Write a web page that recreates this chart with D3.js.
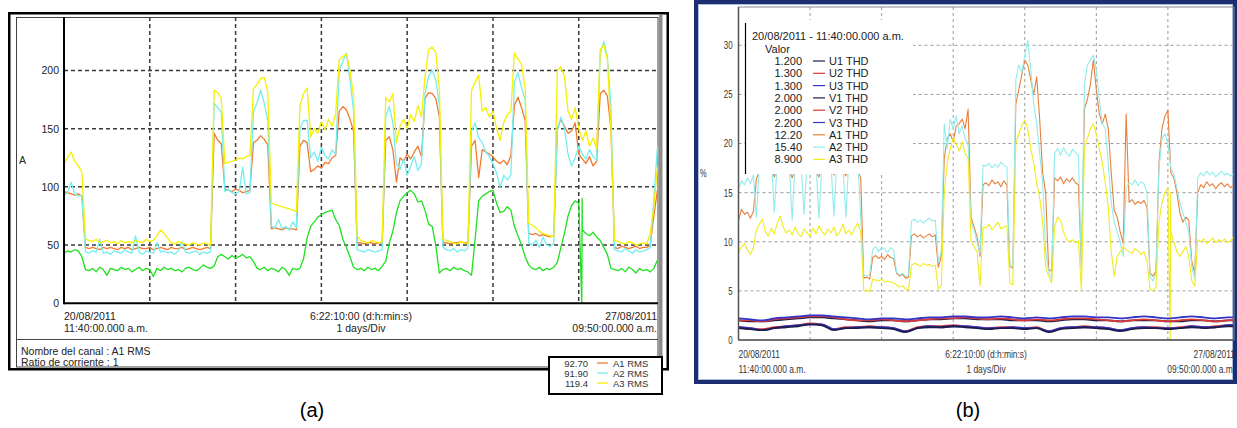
<!DOCTYPE html>
<html>
<head>
<meta charset="utf-8">
<script src="https://cdn.jsdelivr.net/npm/d3@7"></script>
<style>
body { margin: 0; background: #fff; }
svg { display: block; }
</style>
</head>
<body>
<svg id="chart" width="1237" height="428"></svg>
<script>
// hourly samples from 20/08/2011 11:40 (h = 0 .. 166)

// panel (a): RMS currents, A
const a1Rms = [
  96, 95, 94, 93, 94, 92, 48, 47, 48, 47, 46, 48, 47, 48, 47, 46, 48, 47, 48, 46, 47, 48, 47, 47,
  48, 46, 47, 48, 47, 46, 48, 47, 47, 48, 46, 47, 48, 47, 46, 47, 48, 47, 146, 140, 137, 98, 97, 96,
  98, 97, 95, 96, 97, 138, 140, 144, 141, 136, 64, 65, 64, 63, 65, 64, 64, 63, 135, 140, 138, 113, 115, 118,
  116, 121, 120, 125, 127, 165, 169, 166, 158, 148, 52, 52, 51, 52, 52, 51, 52, 52, 140, 143, 132, 104, 125, 122,
  128, 124, 130, 135, 126, 176, 181, 180, 176, 160, 52, 52, 51, 52, 52, 53, 52, 52, 135, 140, 108, 132, 130, 128,
  126, 122, 120, 123, 119, 127, 170, 177, 168, 157, 60, 59, 60, 58, 59, 58, 57, 58, 150, 158, 152, 146, 148, 155,
  128, 124, 120, 126, 118, 122, 180, 183, 178, 150, 48, 47, 49, 48, 47, 48, 49, 47, 48, 48, 50, 75, 97
]
const a2Rms = [
  93, 95, 104, 94, 92, 93, 44, 43, 45, 44, 55, 43, 44, 42, 45, 44, 43, 46, 44, 43, 58, 44, 42, 45,
  44, 43, 52, 44, 45, 43, 44, 42, 45, 53, 44, 43, 44, 45, 42, 44, 43, 44, 172, 168, 164, 96, 98, 95,
  94, 96, 117, 94, 95, 165, 172, 183, 172, 157, 66, 65, 72, 64, 66, 63, 70, 65, 150, 157, 157, 125, 130, 122,
  134, 127, 124, 132, 128, 200, 208, 215, 192, 165, 46, 45, 44, 46, 45, 44, 45, 46, 160, 169, 155, 120, 115, 124,
  110, 118, 126, 114, 120, 180, 195, 200, 192, 170, 48, 46, 45, 47, 44, 46, 45, 47, 148, 155, 142, 138, 130, 126,
  120, 112, 100, 110, 106, 110, 190, 198, 185, 175, 52, 50, 54, 48, 57, 50, 49, 51, 148, 160, 150, 128, 118, 125,
  135, 128, 124, 132, 126, 123, 214, 225, 212, 170, 46, 45, 44, 47, 45, 43, 46, 44, 45, 46, 48, 90, 134
]
const a3Rms = [
  120, 125, 130, 122, 118, 113, 55, 54, 53, 55, 52, 53, 54, 52, 53, 51, 54, 52, 53, 52, 54, 53, 52, 55,
  53, 54, 58, 63, 60, 56, 52, 51, 53, 52, 51, 50, 52, 51, 50, 52, 51, 50, 183, 181, 176, 120, 121, 122,
  123, 125, 124, 126, 127, 184, 188, 193, 194, 182, 86, 85, 84, 83, 82, 81, 80, 79, 170, 180, 185, 143, 150, 146,
  156, 149, 158, 152, 163, 209, 212, 214, 200, 178, 58, 54, 53, 52, 54, 53, 52, 53, 177, 173, 180, 138, 152, 158,
  150, 162, 156, 170, 160, 195, 218, 220, 215, 185, 55, 54, 53, 52, 51, 53, 52, 51, 183, 190, 196, 165, 168, 160,
  165, 150, 140, 155, 162, 165, 215, 210, 205, 185, 69, 67, 65, 62, 60, 59, 58, 57, 200, 203, 195, 165, 158, 168,
  150, 140, 148, 135, 142, 133, 218, 222, 210, 150, 54, 53, 52, 51, 53, 52, 50, 51, 52, 51, 60, 83, 117
]
const nRms = [
  43, 45, 44, 46, 45, 40, 29, 28, 30, 27, 31, 29, 24, 30, 29, 28, 31, 29, 30, 27, 29, 31, 28, 30,
  29, 23, 30, 28, 31, 29, 30, 28, 29, 27, 30, 31, 29, 28, 30, 33, 31, 30, 32, 40, 42, 40, 38, 41,
  39, 40, 42, 39, 40, 36, 30, 29, 31, 28, 30, 29, 27, 31, 29, 24, 30, 29, 30, 38, 56, 66, 70, 74,
  76, 78, 79, 80, 72, 67, 55, 48, 40, 31, 29, 30, 28, 31, 29, 30, 28, 32, 36, 52, 62, 78, 88, 92,
  95, 97, 94, 87, 88, 80, 68, 66, 50, 26, 29, 30, 28, 31, 29, 30, 28, 27, 24, 55, 88, 92, 94, 96,
  97, 86, 78, 79, 83, 80, 66, 58, 50, 40, 33, 30, 29, 31, 28, 30, 29, 31, 35, 48, 60, 75, 84, 88,
  86, 63, 60, 58, 61, 57, 54, 48, 42, 30, 29, 28, 30, 27, 31, 29, 26, 30, 28, 29, 27, 30, 37
]
const nRmsGlitch = [[144.85, 0], [144.95, 90]]
const aTicks = [0, 50, 100, 150, 200]
const rmsNames = ["A1 RMS", "A2 RMS", "A3 RMS"]
const rmsValues = ["92.70", "91.90", "119.4"]

// panel (b): THD, %
const a1Thd = [
  12.2, 13.3, 12.8, 13.0, 12.4, 13.1, 16.4, 17.2, 17.6, 17.3, 17.8, 17.5, 16.6, 17.4, 17.7, 17.2, 17.5, 17.3, 16.5, 17.4, 17.1, 17.7, 17.5, 17.3,
  17.6, 17.4, 17.2, 16.6, 17.7, 17.3, 17.4, 17.6, 16.8, 17.5, 17.4, 17.3, 16.7, 17.8, 17.4, 17.2, 17.5, 16.4, 6.3, 6.4, 6.2, 8.4, 8.6, 8.3,
  8.5, 8.2, 8.7, 8.4, 8.3, 6.8, 6.5, 6.7, 6.3, 6.4, 10.6, 10.8, 10.5, 10.7, 10.4, 10.6, 10.8, 10.5, 10.7, 7.4, 8.5, 18.5, 20.5, 21.0,
  20.2, 21.8, 22.0, 22.5, 21.5, 23.5, 12.5, 11.5, 10.5, 8.5, 15.8, 16.0, 15.7, 16.3, 15.9, 16.1, 15.6, 16.2, 15.8, 7.5, 7.3, 24.0, 25.5, 27.0,
  28.5, 28.0, 26.5, 25.0, 26.8, 22.5, 17.0, 15.0, 7.2, 7.0, 16.5, 16.2, 16.6, 15.9, 16.4, 16.1, 16.5, 16.0, 15.8, 7.5, 23.5, 24.5, 26.0, 28.5,
  25.5, 23.0, 22.0, 23.0, 21.5, 17.0, 13.2, 12.5, 11.0, 9.8, 23.0, 14.0, 14.3, 13.8, 14.1, 13.9, 14.2, 13.5, 6.8, 6.5, 7.0, 18.0, 21.5, 22.8,
  23.4, 17.0, 16.5, 15.0, 13.0, 12.0, 12.5, 12.2, 8.0, 6.8, 15.0, 15.8, 15.5, 16.1, 15.7, 15.9, 15.4, 15.8, 16.0, 15.6, 15.9, 15.5, 15.7
]
const a2Thd = [
  15.4, 16.2, 15.8, 16.5, 15.9, 16.8, 12.5, 18.0, 18.3, 17.8, 18.2, 18.5, 13.0, 18.1, 18.4, 17.9, 18.3, 18.0, 12.2, 18.2, 18.5, 17.8, 12.8, 18.3,
  18.0, 18.4, 17.9, 12.4, 18.2, 18.3, 17.8, 18.0, 12.6, 18.4, 18.1, 17.9, 12.5, 18.3, 18.0, 18.2, 18.5, 12.3, 6.6, 6.5, 6.7, 9.2, 9.5, 9.0,
  9.4, 9.3, 8.9, 9.4, 9.2, 6.9, 6.6, 6.8, 6.5, 6.6, 12.1, 12.3, 12.0, 12.2, 11.9, 12.2, 12.4, 12.1, 12.2, 8.0, 9.0, 22.0, 19.5, 22.5,
  21.5, 22.8, 21.0, 21.8, 20.5, 20.0, 12.0, 11.2, 10.0, 8.8, 17.8, 17.7, 18.0, 17.5, 17.9, 17.6, 18.1, 17.8, 17.6, 7.6, 7.4, 26.5, 28.0, 27.2,
  29.0, 30.5, 27.5, 24.0, 22.0, 19.0, 16.0, 9.0, 7.0, 6.2, 19.0, 19.5, 18.8, 19.6, 19.0, 18.7, 19.4, 19.1, 18.8, 7.2, 26.0, 28.0, 28.5, 29.0,
  27.5, 24.5, 22.0, 21.5, 18.0, 14.0, 12.0, 11.0, 10.0, 8.5, 15.5, 16.0, 15.8, 16.3, 15.7, 16.1, 15.9, 15.0, 6.5, 6.0, 6.8, 17.5, 20.5, 21.0,
  20.0, 17.5, 16.8, 15.5, 14.0, 13.0, 12.0, 11.0, 7.5, 6.2, 16.5, 17.0, 16.7, 17.2, 16.8, 17.1, 16.6, 16.9, 17.2, 16.8, 17.0, 16.7, 16.9
]
const a3Thd = [
  8.9, 9.5, 9.8, 9.2, 8.7, 9.4, 11.2, 11.8, 12.3, 11.0, 10.6, 11.4, 10.8, 11.9, 12.6, 11.5, 10.9, 11.2, 10.7, 11.5, 10.8, 10.5, 11.3, 10.9,
  10.6, 11.4, 10.8, 11.6, 11.0, 10.7, 11.3, 10.9, 11.5, 10.6, 11.0, 11.8, 10.8, 11.2, 10.7, 11.4, 11.9, 11.0, 5.0, 5.1, 4.9, 6.2, 6.1, 6.0,
  6.2, 5.9, 6.0, 5.9, 5.8, 5.6, 5.4, 5.5, 5.2, 5.1, 7.6, 7.8, 7.7, 7.5, 7.8, 7.6, 7.7, 7.5, 7.6, 5.2, 5.5, 15.0, 18.0, 19.5,
  20.5, 20.0, 19.2, 20.2, 19.0, 18.5, 10.0, 9.5, 9.0, 5.5, 11.5, 11.4, 11.8, 11.2, 11.6, 12.0, 11.3, 11.5, 11.6, 5.8, 5.6, 20.0, 21.0, 21.8,
  22.4, 21.5, 19.5, 18.0, 16.0, 14.5, 12.0, 7.5, 6.5, 5.8, 11.5, 12.5, 12.2, 11.0, 10.3, 10.0, 10.2, 9.9, 10.1, 5.0, 19.5, 20.5, 21.5, 22.0,
  21.0, 19.5, 18.0, 16.0, 13.5, 9.0, 6.5, 8.5, 9.0, 9.5, 9.2, 9.0, 8.8, 9.3, 9.1, 8.7, 9.0, 8.0, 5.2, 5.0, 5.4, 12.0, 14.0, 15.0,
  15.5, 11.0, 10.0, 9.0, 8.5, 9.0, 9.5, 8.5, 6.0, 5.5, 10.2, 10.0, 10.3, 9.8, 10.1, 10.4, 9.9, 10.2, 10.0, 10.3, 9.9, 10.1, 10.5
]
const a3ThdGlitch = [[144.8, 0], [144.9, 15]]

// voltage THD, one sample every 4 h
const u1Thd = [1.2, 1.1, 1.0, 1.2, 1.3, 1.4, 1.6, 1.5, 1.0, 1.2, 1.2, 1.3, 1.2, 1.1, 0.8, 1.2, 1.3, 1.3, 1.4, 1.3, 1.2, 1.1, 1.2, 1.2, 1.1, 1.2, 0.8, 1.1, 1.2, 1.3, 1.2, 1.1, 0.9, 1.1, 1.2, 1.2, 1.1, 1.2, 1.3, 1.2, 1.3, 1.4, 1.4]
const u2Thd = [1.3, 1.2, 1.1, 1.3, 1.4, 1.5, 1.7, 1.6, 1.1, 1.3, 1.3, 1.4, 1.3, 1.2, 0.9, 1.3, 1.4, 1.4, 1.5, 1.4, 1.3, 1.2, 1.3, 1.3, 1.2, 1.3, 0.9, 1.2, 1.3, 1.4, 1.3, 1.2, 1.0, 1.2, 1.3, 1.3, 1.2, 1.3, 1.4, 1.3, 1.4, 1.5, 1.5]
const u3Thd = [1.3, 1.2, 1.0, 1.2, 1.4, 1.5, 1.6, 1.6, 1.1, 1.2, 1.3, 1.3, 1.3, 1.2, 0.9, 1.2, 1.4, 1.3, 1.4, 1.4, 1.3, 1.2, 1.2, 1.3, 1.2, 1.2, 0.9, 1.2, 1.3, 1.3, 1.3, 1.2, 1.0, 1.2, 1.3, 1.2, 1.2, 1.2, 1.4, 1.3, 1.3, 1.5, 1.5]
const v1Thd = [2.0, 1.9, 1.9, 2.0, 2.1, 2.2, 2.3, 2.3, 2.2, 2.1, 2.0, 1.9, 2.0, 2.0, 1.9, 2.0, 2.1, 2.1, 2.2, 2.2, 2.1, 2.1, 2.1, 2.0, 2.0, 2.0, 1.9, 2.0, 2.1, 2.1, 2.0, 2.0, 1.9, 2.0, 2.0, 2.0, 1.9, 1.9, 2.0, 2.0, 1.9, 2.0, 2.0]
const v2Thd = [2.0, 2.0, 1.9, 2.1, 2.2, 2.3, 2.4, 2.4, 2.3, 2.1, 2.0, 2.0, 2.1, 2.0, 1.9, 2.0, 2.1, 2.2, 2.2, 2.3, 2.2, 2.1, 2.2, 2.1, 2.0, 2.1, 2.0, 2.1, 2.2, 2.2, 2.1, 2.0, 1.9, 2.0, 2.1, 2.0, 1.9, 2.0, 2.1, 2.0, 1.9, 2.0, 2.1]
const v3Thd = [2.2, 2.1, 2.0, 2.2, 2.3, 2.4, 2.5, 2.5, 2.4, 2.3, 2.2, 2.1, 2.2, 2.2, 2.1, 2.2, 2.3, 2.3, 2.4, 2.4, 2.3, 2.3, 2.4, 2.3, 2.2, 2.3, 2.2, 2.3, 2.4, 2.4, 2.3, 2.3, 2.2, 2.3, 2.4, 2.3, 2.2, 2.3, 2.4, 2.3, 2.2, 2.3, 2.3]
const bTicks = [0, 5, 10, 15, 20, 25, 30]
const thdNames = ["U1 THD", "U2 THD", "U3 THD", "V1 THD", "V2 THD", "V3 THD", "A1 THD", "A2 THD", "A3 THD"]
const thdValues = ["1.200", "1.300", "1.300", "2.000", "2.000", "2.200", "12.20", "15.40", "8.900"]

const colorsA = { "A1 RMS": "#f27a2e", "A2 RMS": "#74eef0", "A3 RMS": "#f7f000", "N": "#1fe01f" }
const colorsB = {
    "U1 THD": "#1c1c4a", "U2 THD": "#d83a3a", "U3 THD": "#3434c8",
    "V1 THD": "#1c1c4a", "V2 THD": "#d83a3a", "V3 THD": "#3434c8",
    "A1 THD": "#e8803c", "A2 THD": "#92ecec", "A3 THD": "#f0ec1e"
}

const FONT = '"Liberation Sans", Arial, Helvetica, sans-serif'
const svg = d3.select("#chart").attr("font-family", FONT)
const spanHours = 6 * 24 + 22 + 10 / 60
const dayTicks = d3.range(24, spanHours, 24)

const toPoints = (vals, step, extra) => vals.map((v, i) => [i * step, v])
    .concat(extra || [])
    .sort((p, q) => p[0] - q[0])

// squeezed text (the right hand panel was scaled down horizontally)
const narrow = (g, x, y, txt, anchor, size, sx) => g.append("text")
    .attr("transform", `translate(${x},${y}) scale(${sx},1)`)
    .attr("text-anchor", anchor)
    .attr("font-size", size)
    .attr("fill", "#333")
    .text(txt)

const drawPanelA = () => {
    let g = svg.append("g"),
        left = 64, right = 658, top = 17, bottom = 303.3;
    let x = d3.scaleLinear().domain([0, spanHours]).range([left, right]),
        y = d3.scaleLinear().domain([0, 245.9]).range([bottom, top]);

    // frames
    g.append("rect").attr("x", 16.5).attr("y", 17.5).attr("width", 641.5).attr("height", 349.5)
        .attr("fill", "none").attr("stroke", "#444")
    g.append("rect").attr("x", 659).attr("y", 15).attr("width", 3.5).attr("height", 342)
        .attr("fill", "#8d8d8d")
    g.append("rect").attr("x", 9.25).attr("y", 13.25).attr("width", 658.5).attr("height", 356)
        .attr("fill", "none").attr("stroke", "#000").attr("stroke-width", 2.5)
    g.append("line").attr("x1", 16.5).attr("x2", 658).attr("y1", 339.5).attr("y2", 339.5)
        .attr("stroke", "#444")

    // grid
    g.selectAll(".vgridA").data(dayTicks).enter().append("line")
        .attr("x1", d => x(d)).attr("x2", d => x(d))
        .attr("y1", top).attr("y2", bottom)
        .attr("stroke", "#3a3a3a").attr("stroke-width", 1.5).attr("stroke-dasharray", "4,3")
    g.selectAll(".hgridA").data(aTicks.filter(d => d > 0)).enter().append("line")
        .attr("x1", left).attr("x2", right)
        .attr("y1", d => y(d)).attr("y2", d => y(d))
        .attr("stroke", "#3a3a3a").attr("stroke-width", 1.5).attr("stroke-dasharray", "4,3")

    g.append("clipPath").attr("id", "clipA").append("rect")
        .attr("x", left).attr("y", top).attr("width", right - left).attr("height", bottom - top)

    let line = d3.line().x(d => x(d[0])).y(d => y(d[1]))
    let plotted = [
        ["A1 RMS", toPoints(a1Rms, 1)],
        ["A2 RMS", toPoints(a2Rms, 1)],
        ["A3 RMS", toPoints(a3Rms, 1)],
        ["N", toPoints(nRms, 1, nRmsGlitch)]
    ]
    g.append("g").attr("clip-path", "url(#clipA)")
        .selectAll("path").data(plotted).enter().append("path")
        .attr("d", d => line(d[1]))
        .attr("fill", "none")
        .attr("stroke", d => colorsA[d[0]])
        .attr("stroke-width", 1.3)
        .attr("stroke-linejoin", "round")

    // axis lines
    g.append("line").attr("x1", left).attr("x2", left).attr("y1", top).attr("y2", bottom + 1)
        .attr("stroke", "#000").attr("stroke-width", 2)
    g.append("line").attr("x1", left).attr("x2", right).attr("y1", bottom).attr("y2", bottom)
        .attr("stroke", "#000").attr("stroke-width", 2)

    g.append("g").attr("transform", `translate(${left},0)`)
        .call(d3.axisLeft(y).tickValues(aTicks).tickSize(0).tickPadding(5))
        .call(s => s.select(".domain").remove())
        .attr("font-family", FONT).attr("font-size", 10.5)
        .selectAll("text").attr("fill", "#222")

    let txt = (tx, ty, s, anchor) => g.append("text").attr("x", tx).attr("y", ty)
        .attr("text-anchor", anchor || "start").attr("font-size", 10.5).attr("fill", "#222").text(s)
    txt(19, 164, "A")
    txt(left, 320, "20/08/2011")
    txt(left, 331.5, "11:40:00.000 a.m.")
    txt(361, 320, "6:22:10:00 (d:h:min:s)", "middle")
    txt(361, 331.5, "1 days/Div", "middle")
    txt(657, 320, "27/08/2011", "end")
    txt(657, 331.5, "09:50:00.000 a.m.", "end")
    txt(21, 355, "Nombre del canal : A1 RMS")
    txt(21, 366, "Ratio de corriente : 1")

    // value legend
    let lg = g.append("g")
    lg.append("rect").attr("x", 549).attr("y", 357).attr("width", 113).attr("height", 37)
        .attr("fill", "#fff").attr("stroke", "#000").attr("stroke-width", 2)
    rmsNames.forEach((n, i) => {
        let by = 366.5 + i * 10
        lg.append("text").attr("x", 588).attr("y", by).attr("text-anchor", "end")
            .attr("font-size", 9.5).attr("fill", "#333").text(rmsValues[i])
        lg.append("line").attr("x1", 597).attr("x2", 608).attr("y1", by - 3.5).attr("y2", by - 3.5)
            .attr("stroke", colorsA[n]).attr("stroke-width", 1.3)
        lg.append("text").attr("x", 613).attr("y", by)
            .attr("font-size", 9.5).attr("fill", "#333").text(n)
    })
}

const drawPanelB = () => {
    let g = svg.append("g"),
        left = 738.5, right = 1234, top = 7, bottom = 340;
    let x = d3.scaleLinear().domain([0, spanHours]).range([left, right]),
        y = d3.scaleLinear().domain([0, 33.9]).range([bottom, top]);

    // blue window frame
    g.append("rect").attr("x", 696).attr("y", 2).attr("width", 539).attr("height", 380)
        .attr("fill", "#fff").attr("stroke", "#1b2f70").attr("stroke-width", 4)
    g.append("rect").attr("x", 698.5).attr("y", 4.5).attr("width", 534).attr("height", 375)
        .attr("fill", "none").attr("stroke", "#a9bde0").attr("stroke-width", 1)

    g.selectAll(".vgridB").data(dayTicks).enter().append("line")
        .attr("x1", d => x(d)).attr("x2", d => x(d))
        .attr("y1", top).attr("y2", bottom)
        .attr("stroke", "#9a9a9a").attr("stroke-dasharray", "3,3")
    g.selectAll(".hgridB").data(bTicks.filter(d => d > 0)).enter().append("line")
        .attr("x1", left).attr("x2", right)
        .attr("y1", d => y(d)).attr("y2", d => y(d))
        .attr("stroke", "#9a9a9a").attr("stroke-dasharray", "3,3")

    g.append("clipPath").attr("id", "clipB").append("rect")
        .attr("x", left).attr("y", top).attr("width", right - left).attr("height", bottom - top)

    let line = d3.line().x(d => x(d[0])).y(d => y(d[1]))
    let curve = d3.line().curve(d3.curveMonotoneX).x(d => x(d[0])).y(d => y(d[1]))
    let plot = g.append("g").attr("clip-path", "url(#clipB)")

    let current = [
        ["A1 THD", toPoints(a1Thd, 1)],
        ["A2 THD", toPoints(a2Thd, 1)],
        ["A3 THD", toPoints(a3Thd, 1, a3ThdGlitch)]
    ]
    plot.selectAll(".cur").data(current).enter().append("path")
        .attr("d", d => line(d[1]))
        .attr("fill", "none")
        .attr("stroke", d => colorsB[d[0]])
        .attr("stroke-width", 1.1)
        .attr("stroke-linejoin", "round")

    let voltage = [
        ["V1 THD", toPoints(v1Thd, 4)],
        ["V2 THD", toPoints(v2Thd, 4)],
        ["V3 THD", toPoints(v3Thd, 4)],
        ["U2 THD", toPoints(u2Thd, 4)],
        ["U3 THD", toPoints(u3Thd, 4)],
        ["U1 THD", toPoints(u1Thd, 4)]
    ]
    plot.selectAll(".volt").data(voltage).enter().append("path")
        .attr("d", d => curve(d[1]))
        .attr("fill", "none")
        .attr("stroke", d => colorsB[d[0]])
        .attr("stroke-width", 1.8)

    // plot frame
    g.append("rect").attr("x", left).attr("y", top).attr("width", right - left).attr("height", bottom - top)
        .attr("fill", "none").attr("stroke", "#8a8a8a")
    g.append("line").attr("x1", left).attr("x2", left).attr("y1", top).attr("y2", bottom)
        .attr("stroke", "#555").attr("stroke-width", 1.5)
    g.append("line").attr("x1", left).attr("x2", right).attr("y1", bottom).attr("y2", bottom)
        .attr("stroke", "#555").attr("stroke-width", 1.5)

    let ax = g.append("g").attr("transform", `translate(${left},0)`)
        .call(d3.axisLeft(y).tickValues(bTicks).tickSize(0).tickPadding(0))
        .call(s => s.select(".domain").remove())
        .attr("font-family", FONT).attr("font-size", 10.5)
    ax.selectAll("text").attr("fill", "#333").attr("x", -8).attr("transform", "scale(0.75,1)")

    narrow(g, 700, 177, "%", "start", 10, 0.75)
    narrow(g, left, 358, "20/08/2011", "start", 10.5, 0.8)
    narrow(g, left, 372.5, "11:40:00.000 a.m.", "start", 10.5, 0.8)
    narrow(g, 986, 358, "6:22:10:00 (d:h:min:s)", "middle", 10.5, 0.8)
    narrow(g, 986, 372.5, "1 days/Div", "middle", 10.5, 0.8)
    narrow(g, 1235, 358, "27/08/2011", "end", 10.5, 0.8)
    narrow(g, 1235, 372.5, "09:50:00.000 a.m.", "end", 10.5, 0.8)

    // cursor value legend
    let lg = g.append("g")
    lg.append("rect").attr("x", 745).attr("y", 20).attr("width", 168).attr("height", 154).attr("fill", "#fff")
    lg.append("line").attr("x1", 745.5).attr("x2", 745.5).attr("y1", 23).attr("y2", 174)
        .attr("stroke", "#000").attr("stroke-width", 1.2)
    lg.append("text").attr("x", 752).attr("y", 40).attr("font-size", 11).attr("fill", "#222")
        .text("20/08/2011 - 11:40:00.000 a.m.")
    lg.append("text").attr("x", 765).attr("y", 53).attr("font-size", 11).attr("fill", "#222").text("Valor")
    thdNames.forEach((n, i) => {
        let by = 65 + i * 12.3
        lg.append("text").attr("x", 802).attr("y", by).attr("text-anchor", "end")
            .attr("font-size", 11).attr("fill", "#222").text(thdValues[i])
        lg.append("line").attr("x1", 813).attr("x2", 825).attr("y1", by - 4).attr("y2", by - 4)
            .attr("stroke", colorsB[n]).attr("stroke-width", 1.2)
        lg.append("text").attr("x", 829).attr("y", by)
            .attr("font-size", 11).attr("fill", "#222").text(n)
    })
}

drawPanelA()
drawPanelB()

svg.append("text").attr("x", 312).attr("y", 417).attr("text-anchor", "middle")
    .attr("font-size", 20).attr("fill", "#000").text("(a)")
svg.append("text").attr("x", 968).attr("y", 417).attr("text-anchor", "middle")
    .attr("font-size", 20).attr("fill", "#000").text("(b)")
</script>
</body>
</html>
